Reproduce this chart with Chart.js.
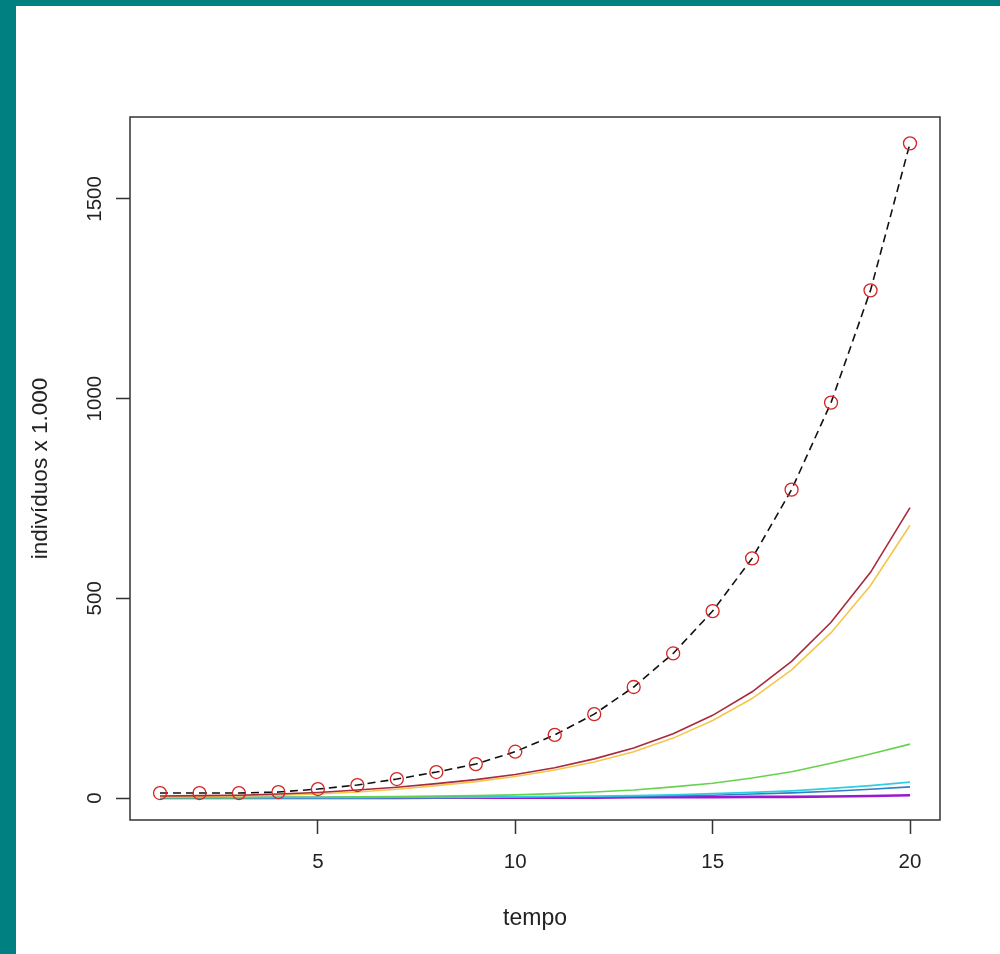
<!DOCTYPE html>
<html lang="pt">
<head>
    <meta charset="UTF-8">
    <meta content="width=device-width, initial-scale=1.0" name="viewport">
    <script src="https://cdn.jsdelivr.net/npm/chart.js"></script>
    <title>indivíduos x tempo</title>
    <style>
        html, body { margin: 0; padding: 0; }
        body { background: #008080; width: 1000px; height: 954px; overflow: hidden; position: relative; }
        .panel { position: absolute; left: 16px; top: 6px; width: 984px; height: 948px; background: #ffffff; }
    </style>
</head>
<body>

<div class="panel">
    <canvas id="myChart"></canvas>
</div>

<script>

    // tempo (passos)
    const tempo = [1, 2, 3, 4, 5, 6, 7, 8, 9, 10, 11, 12, 13, 14, 15, 16, 17, 18, 19, 20];

    // total (linha tracejada com circulos)
    const total = [12.5, 12.5, 12.5, 15, 22.5, 32.5, 47.5, 65, 85, 116, 158, 210, 278, 362, 468, 600, 772, 990, 1271, 1639];

    // classes
    const classe1 = [5, 6, 7, 10, 14, 20, 27, 36, 46, 59, 76, 98, 125, 161, 207, 266, 342, 440, 565, 727];
    const classe2 = [3, 4, 5, 7, 10, 15, 22, 31, 41, 54, 70, 90, 116, 150, 194, 249, 321, 414, 532, 683];
    const classe3 = [1, 1, 1, 2, 2, 3, 4, 5, 6, 8, 11, 15, 20, 28, 37, 50, 66, 87, 110, 135];
    const classe4 = [1, 1, 1, 1, 1, 1, 2, 2, 2, 3, 4, 5, 6, 8, 11, 14, 18, 24, 31, 40];
    const classe5 = [1, 1, 1, 1, 1, 1, 1, 1, 2, 2, 3, 3, 4, 6, 7, 10, 13, 17, 22, 28];
    const classe6 = [0, 0, 0, 0, 0, 0, 0, 1, 1, 1, 1, 1, 2, 2, 2, 3, 3, 4, 5, 7];

    const xTicks = [5, 10, 15, 20];
    const yTicks = [0, 500, 1000, 1500];

    const xy = (arr) => tempo.map((t, i) => ({x: t, y: arr[i]}));

    const fontFamily = '"Liberation Sans", Arial, Helvetica, sans-serif';

    const boxPlugin = {
        id: 'plotBox',
        afterDraw: (chart) => {
            const {ctx, chartArea} = chart;
            ctx.save();
            ctx.strokeStyle = '#333333';
            ctx.lineWidth = 1.5;
            ctx.strokeRect(chartArea.left, chartArea.top, chartArea.right - chartArea.left, chartArea.bottom - chartArea.top);
            ctx.restore();
        }
    };

    function lineSet(data, color, width) {
        return {
            data: xy(data),
            borderColor: color,
            backgroundColor: color,
            borderWidth: width,
            pointRadius: 0,
            tension: 0
        };
    }

    const ctx = document.getElementById('myChart').getContext('2d');

    const chart = new Chart(ctx, {
        type: 'line',
        data: {
            datasets: [{
                data: xy(total),
                borderColor: '#111111',
                borderWidth: 1.6,
                borderDash: [8, 5],
                pointRadius: 6.5,
                pointBorderWidth: 1.3,
                pointBorderColor: '#d42424',
                pointBackgroundColor: 'rgba(0,0,0,0)',
                tension: 0
            },
                lineSet(classe1, '#a82a3c', 1.6),
                lineSet(classe2, '#f5c64a', 1.6),
                lineSet(classe3, '#66d24e', 1.6),
                lineSet(classe4, '#2ecfe0', 1.8),
                lineSet(classe5, '#2f7ec6', 1.6),
                lineSet(classe6, '#9a18d0', 2.6)
            ]
        },
        options: {
            responsive: true,
            maintainAspectRatio: false,
            animation: false,
            layout: {
                padding: {top: 111, right: 60, left: 0, bottom: 0}
            },
            plugins: {
                legend: {display: false},
                tooltip: {enabled: false}
            },
            scales: {
                x: {
                    type: 'linear',
                    min: 0.24,
                    max: 20.76,
                    afterBuildTicks: (scale) => { scale.ticks = xTicks.map(v => ({value: v})); },
                    afterFit: (scale) => { scale.height = 134; },
                    border: {display: false},
                    grid: {
                        display: true,
                        drawOnChartArea: false,
                        drawTicks: true,
                        tickLength: 14,
                        tickWidth: 1.5,
                        tickColor: '#333333'
                    },
                    ticks: {
                        color: '#222222',
                        padding: 16,
                        maxRotation: 0,
                        callback: (v) => String(v),
                        font: {family: fontFamily, size: 20.5}
                    },
                    title: {
                        display: true,
                        text: 'tempo',
                        color: '#222222',
                        padding: {top: 0, bottom: 22},
                        font: {family: fontFamily, size: 23}
                    }
                },
                y: {
                    type: 'linear',
                    min: -55,
                    max: 1705,
                    afterBuildTicks: (scale) => { scale.ticks = yTicks.map(v => ({value: v})); },
                    afterFit: (scale) => { scale.width = 114; },
                    border: {display: false},
                    grid: {
                        display: true,
                        drawOnChartArea: false,
                        drawTicks: true,
                        tickLength: 14,
                        tickWidth: 1.5,
                        tickColor: '#333333'
                    },
                    ticks: {
                        color: '#222222',
                        padding: -2,
                        minRotation: 90,
                        maxRotation: 90,
                        crossAlign: 'center',
                        callback: (v) => String(v),
                        font: {family: fontFamily, size: 20.5}
                    },
                    title: {
                        display: true,
                        text: 'indivíduos x 1.000',
                        color: '#222222',
                        padding: {top: 11, bottom: 0},
                        font: {family: fontFamily, size: 22.5}
                    }
                }
            }
        },
        plugins: [boxPlugin]
    });

</script>

</body>
</html>
